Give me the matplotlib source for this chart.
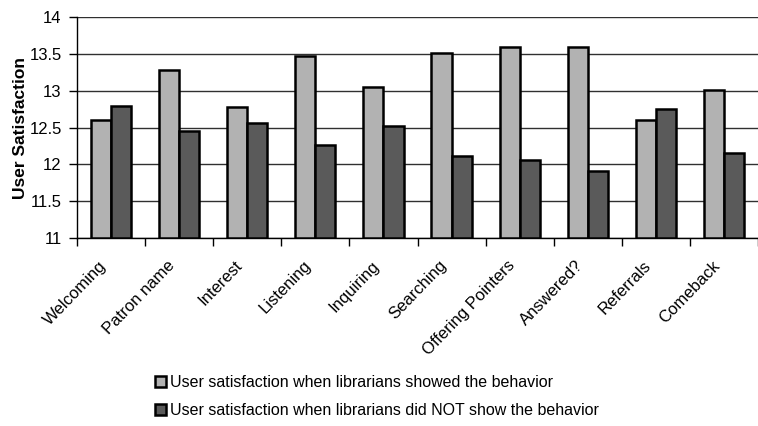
import matplotlib
matplotlib.use("Agg")
import matplotlib.pyplot as plt
import matplotlib.transforms as mtransforms
import numpy as np
from matplotlib.patches import Patch

plt.rcParams['font.family'] = ['Liberation Sans', 'DejaVu Sans']

categories = ["Welcoming", "Patron name", "Interest", "Listening", "Inquiring",
              "Searching", "Offering Pointers", "Answered?", "Referrals", "Comeback"]
showed = [12.60, 13.29, 12.78, 13.48, 13.05, 13.52, 13.59, 13.59, 12.61, 13.01]
not_showed = [12.80, 12.46, 12.56, 12.27, 12.52, 12.12, 12.06, 11.91, 12.76, 12.16]
yticks = [11, 11.5, 12, 12.5, 13, 13.5, 14]

light = '#b2b2b2'
dark = '#5a5a5a'

fig = plt.figure(figsize=(7.58, 4.26), dpi=100)
ax = fig.add_axes([77 / 758, 1 - 238 / 426, 681 / 758, (238 - 17.3) / 426])

x = np.arange(len(categories))
w = 0.295
ax.bar(x - w / 2, np.array(showed) - 11, w, bottom=11, color=light,
       edgecolor='black', linewidth=1.8, zorder=3)
ax.bar(x + w / 2, np.array(not_showed) - 11, w, bottom=11, color=dark,
       edgecolor='black', linewidth=1.8, zorder=3)

ax.set_xlim(-0.5, len(categories) - 0.5)
ax.set_ylim(11, 14)
ax.set_yticks(yticks)
ax.set_yticklabels([f"{v:g}" for v in yticks], fontsize=12)
ax.yaxis.grid(True, color='#303030', linewidth=1.0, zorder=0)
ax.set_axisbelow(True)

# category labels: right-middle of each label sits just below and left of its slot centre
ax.set_xticks(x)
ax.set_xticklabels(categories, rotation=46, ha='right', va='center',
                   rotation_mode='anchor', fontsize=12)
ax.tick_params(axis='x', length=0, pad=18)
shift = mtransforms.ScaledTranslation(-7 / 100, 0, fig.dpi_scale_trans)
for lbl in ax.get_xticklabels():
    lbl.set_transform(lbl.get_transform() + shift)

ax.set_xticks(np.arange(len(categories) + 1) - 0.5, minor=True)
ax.tick_params(axis='x', which='minor', length=6, width=1, color='black',
               direction='out')
ax.tick_params(axis='y', length=6, width=1, direction='out', pad=5)

for s in ['top', 'right']:
    ax.spines[s].set_visible(False)
ax.spines['left'].set_linewidth(1)
ax.spines['bottom'].set_linewidth(1)

ax.set_ylabel("User Satisfaction", fontsize=12.5, fontweight='bold', labelpad=1)

handles = [Patch(facecolor=light, edgecolor='black', linewidth=1.8),
           Patch(facecolor=dark, edgecolor='black', linewidth=1.8)]
labels = ["User satisfaction when librarians showed the behavior",
          "User satisfaction when librarians did NOT show the behavior"]
fig.legend(handles, labels, loc='upper left', bbox_to_anchor=(155 / 758, 1 - 375 / 426),
           frameon=False, fontsize=11.5, handlelength=0.7, handleheight=0.7,
           handletextpad=0.25, labelspacing=0.8, borderpad=0, borderaxespad=0)

fig.savefig("out.png", dpi=100)
